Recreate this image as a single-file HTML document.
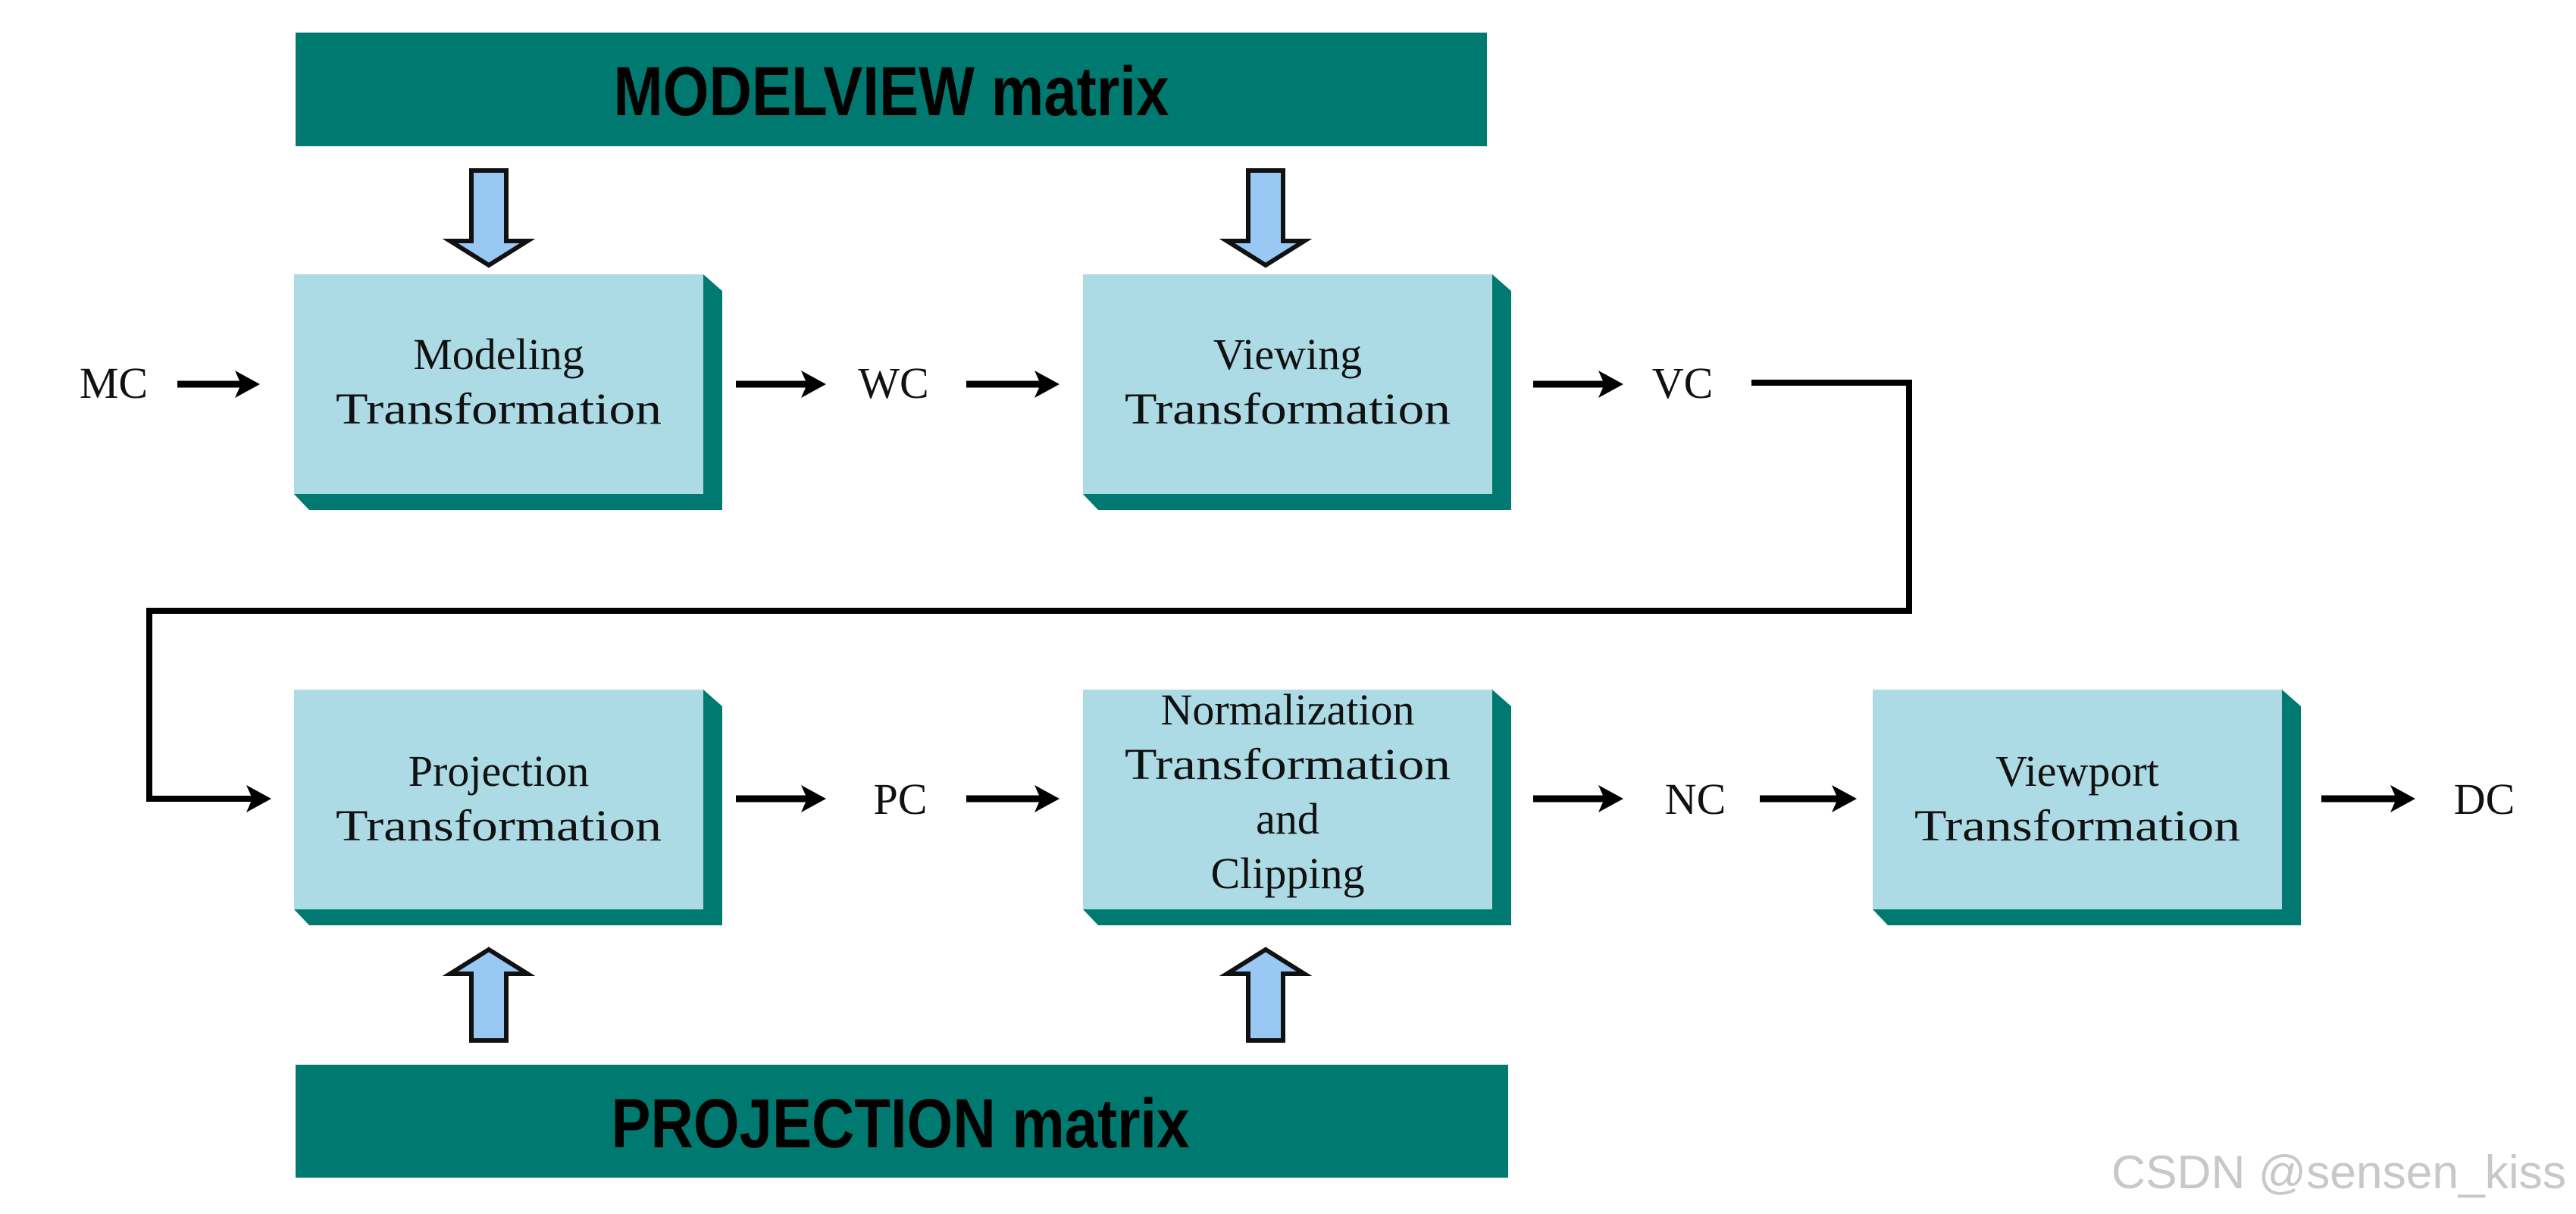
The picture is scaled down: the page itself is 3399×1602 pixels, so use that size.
<!DOCTYPE html>
<html><head><meta charset="utf-8"><style>
html,body{margin:0;padding:0;background:#fff;}
svg{display:block;}
.t{font-family:"Liberation Serif",serif;font-size:58px;fill:#111;}
.b{font-family:"Liberation Sans",sans-serif;font-weight:bold;font-size:92px;fill:#000;}
</style></head><body>
<svg width="3399" height="1602" viewBox="0 0 3399 1602" xmlns="http://www.w3.org/2000/svg">
<defs>
<marker id="ah" markerWidth="10" markerHeight="10" refX="6" refY="5" orient="auto" markerUnits="userSpaceOnUse" viewBox="0 0 10 10">
</marker>
</defs>
<!-- Bars -->
<rect x="390" y="43" width="1572" height="150" fill="#007a70"/>
<text class="b" x="1176" y="152" text-anchor="middle" textLength="733" lengthAdjust="spacingAndGlyphs">MODELVIEW matrix</text>
<rect x="390" y="1405" width="1600" height="149" fill="#007a70"/>
<text class="b" x="1188" y="1514" text-anchor="middle" textLength="763" lengthAdjust="spacingAndGlyphs">PROJECTION matrix</text>

<!-- Boxes: face x,y, w=540,h=290 -->
<g id="boxes">
<g transform="translate(388,362)">
<polygon points="540,0 565,22 565,311 20,311 0,290 540,290" fill="#007a70"/>
<rect x="0" y="0" width="540" height="290" fill="#addbe5"/>
</g>
<g transform="translate(1429,362)">
<polygon points="540,0 565,22 565,311 20,311 0,290 540,290" fill="#007a70"/>
<rect x="0" y="0" width="540" height="290" fill="#addbe5"/>
</g>
<g transform="translate(388,910)">
<polygon points="540,0 565,22 565,311 20,311 0,290 540,290" fill="#007a70"/>
<rect x="0" y="0" width="540" height="290" fill="#addbe5"/>
</g>
<g transform="translate(1429,910)">
<polygon points="540,0 565,22 565,311 20,311 0,290 540,290" fill="#007a70"/>
<rect x="0" y="0" width="540" height="290" fill="#addbe5"/>
</g>
<g transform="translate(2471,910)">
<polygon points="540,0 565,22 565,311 20,311 0,290 540,290" fill="#007a70"/>
<rect x="0" y="0" width="540" height="290" fill="#addbe5"/>
</g>
</g>

<!-- Box text -->
<g class="t" text-anchor="middle">
<text x="658" y="487">Modeling</text>
<text x="658" y="559" textLength="430" lengthAdjust="spacingAndGlyphs">Transformation</text>
<text x="1699" y="487">Viewing</text>
<text x="1699" y="559" textLength="430" lengthAdjust="spacingAndGlyphs">Transformation</text>
<text x="658" y="1037">Projection</text>
<text x="658" y="1109" textLength="430" lengthAdjust="spacingAndGlyphs">Transformation</text>
<text x="1699" y="956">Normalization</text>
<text x="1699" y="1028" textLength="430" lengthAdjust="spacingAndGlyphs">Transformation</text>
<text x="1699" y="1100">and</text>
<text x="1699" y="1172">Clipping</text>
<text x="2741" y="1037">Viewport</text>
<text x="2741" y="1109" textLength="430" lengthAdjust="spacingAndGlyphs">Transformation</text>
<!-- labels -->
<text x="150" y="525">MC</text>
<text x="1179" y="525">WC</text>
<text x="2220" y="525">VC</text>
<text x="1188" y="1074">PC</text>
<text x="2237" y="1074">NC</text>
<text x="3278" y="1074">DC</text>
</g>

<!-- black arrows -->
<g fill="#000">
<g id="a1"></g>
</g>
<g stroke="#000" stroke-width="9" fill="none">
<line x1="234" y1="507" x2="320" y2="507"/>
<line x1="971" y1="507" x2="1068" y2="507"/>
<line x1="1275" y1="507" x2="1376" y2="507"/>
<line x1="2023" y1="507" x2="2120" y2="507"/>
<polyline points="2311,505 2519,505 2519,806 197,806 197,1054 335,1054" stroke-width="8"/>
<line x1="971" y1="1054" x2="1068" y2="1054"/>
<line x1="1275" y1="1054" x2="1376" y2="1054"/>
<line x1="2023" y1="1054" x2="2120" y2="1054"/>
<line x1="2322" y1="1054" x2="2428" y2="1054"/>
<line x1="3063" y1="1054" x2="3165" y2="1054"/>
</g>
<g fill="#000">
<polygon points="343,507 310,489 318,507 310,525"/>
<polygon points="1090,507 1057,489 1065,507 1057,525"/>
<polygon points="1398,507 1365,489 1373,507 1365,525"/>
<polygon points="2142,507 2109,489 2117,507 2109,525"/>
<polygon points="358,1054 325,1036 333,1054 325,1072"/>
<polygon points="1090,1054 1057,1036 1065,1054 1057,1072"/>
<polygon points="1398,1054 1365,1036 1373,1054 1365,1072"/>
<polygon points="2142,1054 2109,1036 2117,1054 2109,1072"/>
<polygon points="2450,1054 2417,1036 2425,1054 2417,1072"/>
<polygon points="3187,1054 3154,1036 3162,1054 3154,1072"/>
</g>

<!-- blue block arrows -->
<g fill="#99c8f5" stroke="#111" stroke-width="6" stroke-linejoin="miter">
<polygon points="622,225 668,225 668,318 696,318 645,350 594,318 622,318"/>
<polygon points="1647,225 1693,225 1693,318 1721,318 1670,350 1619,318 1647,318"/>
<polygon points="622,1373 668,1373 668,1285 696,1285 645,1253 594,1285 622,1285"/>
<polygon points="1647,1373 1693,1373 1693,1285 1721,1285 1670,1253 1619,1285 1647,1285"/>
</g>

<text x="3386" y="1568" text-anchor="end" font-family="Liberation Sans, sans-serif" font-size="62" fill="#c8c8c8" textLength="600" lengthAdjust="spacingAndGlyphs">CSDN @sensen_kiss</text>
</svg>
</body></html>
